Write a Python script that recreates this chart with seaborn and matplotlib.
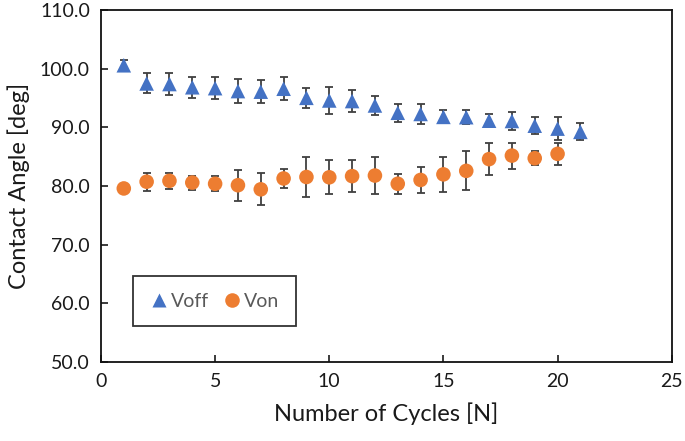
import numpy as np
import pandas as pd
import matplotlib
matplotlib.use("Agg")
import matplotlib.pyplot as plt
import seaborn as sns

# values
cycles_off = list(range(1, 22))
voff_mean = [100.6, 97.5, 97.4, 96.85, 96.7, 96.2, 96.1, 96.6, 95.05, 94.6, 94.5,
             93.75, 92.5, 92.3, 91.8, 91.75, 91.15, 91.1, 90.3, 89.8, 89.25]
voff_err = [0.9, 1.7, 1.9, 1.75, 1.9, 2.1, 1.95, 2.0, 1.75, 2.3, 1.9,
            1.65, 1.5, 1.7, 1.1, 1.15, 1.1, 1.6, 1.5, 2.0, 1.45]

cycles_on = list(range(1, 21))
von_mean = [79.6, 80.75, 80.9, 80.6, 80.4, 80.15, 79.45, 81.3, 81.55, 81.5, 81.7,
            81.8, 80.4, 81.05, 82.0, 82.6, 84.6, 85.2, 84.75, 85.5]
von_err = [0.8, 1.55, 1.4, 1.2, 1.3, 2.65, 2.75, 1.7, 3.35, 2.9, 2.7,
           3.1, 1.7, 2.25, 3.0, 3.3, 2.7, 2.2, 1.15, 1.9]

df = pd.concat([
    pd.DataFrame({"cycle": cycles_off, "angle": voff_mean, "err": voff_err, "series": "Voff"}),
    pd.DataFrame({"cycle": cycles_on, "angle": von_mean, "err": von_err, "series": "Von"}),
], ignore_index=True)

sns.set_theme(style="ticks")
plt.rcParams['font.family'] = ['Lato', 'DejaVu Sans']

fig = plt.figure(figsize=(6.85, 4.41), dpi=100)
ax = fig.add_axes([0.1474, 0.179, 0.8332, 0.798])

colors = {"Voff": "#4472C4", "Von": "#ED7D31"}
markers = {"Voff": "^", "Von": "o"}

# error bars first so markers sit on top
for name, grp in df.groupby("series"):
    ax.errorbar(grp["cycle"], grp["angle"], yerr=grp["err"], fmt="none",
                ecolor="#404040", elinewidth=1.3, capsize=3, capthick=1.3, zorder=2)

sns.scatterplot(data=df, x="cycle", y="angle", hue="series", style="series",
                palette=colors, markers=markers, s=110, edgecolor="none",
                ax=ax, zorder=3)

ax.set_xlim(0, 25)
ax.set_ylim(50, 110)
ax.set_xticks(np.arange(0, 26, 5))
ax.set_yticks(np.arange(50, 111, 10))
ax.set_yticklabels([f"{v:.1f}" for v in np.arange(50, 111, 10)])
ax.tick_params(direction="in", length=5, width=1.2, labelsize=14, colors="#1a1a1a",
               pad=8)
for side in ["top", "right", "bottom", "left"]:
    ax.spines[side].set_visible(True)
    ax.spines[side].set_linewidth(1.3)
    ax.spines[side].set_color("#111111")

ax.set_xlabel("Number of Cycles [N]", fontsize=17, labelpad=9, color="#1a1a1a")
ax.set_ylabel("Contact Angle [deg]", fontsize=17, labelpad=7, color="#1a1a1a")

leg = ax.legend(loc="lower left", bbox_to_anchor=(0.056, 0.102), ncol=2,
                frameon=True, fancybox=False, edgecolor="black", fontsize=14,
                handlelength=1.0, handletextpad=0.1, columnspacing=0.7,
                borderpad=0.85, borderaxespad=0, title=None)
leg.get_frame().set_linewidth(1.3)
for t in leg.get_texts():
    t.set_color("#595959")

fig.savefig("out.png", dpi=100)
